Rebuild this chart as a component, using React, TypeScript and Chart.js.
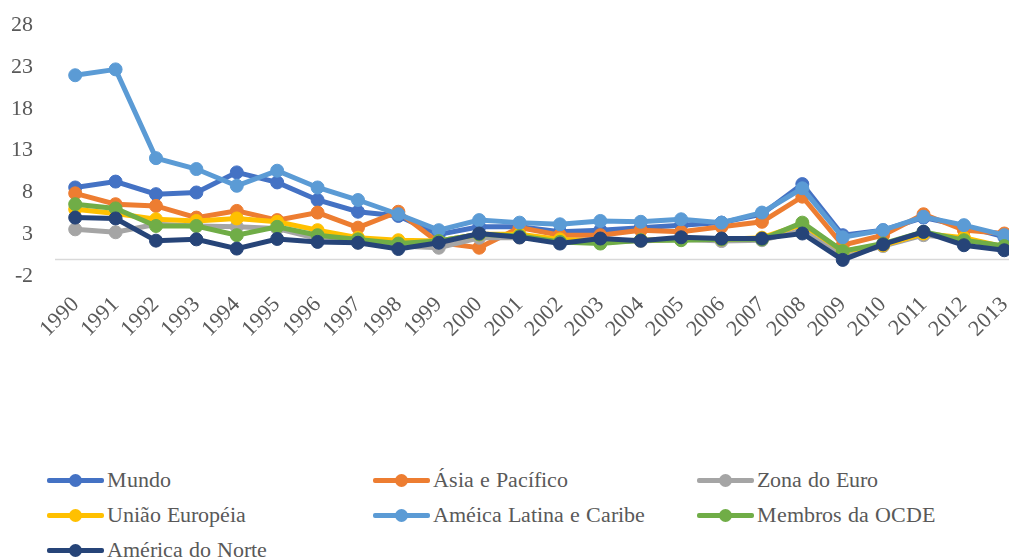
import React, { useEffect, useRef, useState } from "react";
import { Chart, registerables } from "chart.js";

Chart.register(...registerables);

const years = ["1990","1991","1992","1993","1994","1995","1996","1997","1998","1999","2000","2001","2002","2003","2004","2005","2006","2007","2008","2009","2010","2011","2012","2013"];

const mundo = [8.6, 9.3, 7.8, 8.0, 10.4, 9.2, 7.1, 5.7, 5.2, 3.0, 3.9, 3.9, 3.3, 3.5, 3.8, 4.1, 4.4, 5.4, 9.0, 2.9, 3.5, 5.0, 4.0, 2.7];
const asia = [7.9, 6.6, 6.4, 5.0, 5.8, 4.7, 5.6, 3.8, 5.7, 2.0, 1.4, 3.8, 2.9, 2.9, 3.5, 3.3, 3.9, 4.5, 7.5, 1.7, 2.9, 5.4, 3.5, 3.1];
const zona = [3.6, 3.25, 4.2, 4.0, 3.9, 3.7, 2.5, 2.0, 1.6, 1.4, 2.6, 2.6, 2.3, 2.1, 2.2, 2.4, 2.2, 2.3, 3.5, 0.4, 1.6, 2.9, 2.5, 1.4];
const ue = [6.0, 5.5, 4.8, 4.6, 4.9, 4.5, 3.5, 2.6, 2.3, 2.2, 3.0, 3.0, 2.4, 2.2, 2.3, 2.4, 2.4, 2.6, 4.2, 1.0, 1.7, 3.1, 2.6, 1.5];
const latam = [22.0, 22.7, 12.1, 10.8, 8.8, 10.6, 8.6, 7.1, 5.4, 3.5, 4.7, 4.4, 4.2, 4.6, 4.5, 4.8, 4.4, 5.6, 8.5, 2.65, 3.5, 5.1, 4.1, 2.9];
const ocde = [6.6, 6.1, 4.0, 4.0, 2.9, 3.9, 2.9, 2.4, 1.9, 2.2, 3.0, 2.8, 2.1, 1.9, 2.3, 2.3, 2.4, 2.4, 4.4, 1.0, 1.9, 3.3, 2.3, 1.6];
const norte = [5.0, 4.9, 2.25, 2.4, 1.3, 2.45, 2.1, 2.0, 1.25, 2.0, 3.1, 2.65, 1.9, 2.5, 2.25, 2.65, 2.5, 2.5, 3.1, -0.05, 1.8, 3.3, 1.7, 1.1];

const seriesNames = ["Mundo", "Ásia e Pacífico", "Zona do Euro", "União Européia", "Améica Latina e Caribe", "Membros da OCDE", "América do Norte"];
const seriesColors = ["#4472C4", "#ED7D31", "#A5A5A5", "#FFC000", "#5B9BD5", "#70AD47", "#264478"];
const seriesValues = [mundo, asia, zona, ue, latam, ocde, norte];

const yMin = -2;
const yMax = 28;
const yStep = 5;

const FONT_FACE_CSS =
  '@font-face { font-family: "ChartSerif"; src: local("Liberation Serif"), local("LiberationSerif"), local("LiberationSerif-Regular"), local("Tinos"), local("Times New Roman"); }';
const FAMILY = 'ChartSerif, "Liberation Serif", "Times New Roman", serif';

const zeroLine = {
  id: "zeroLine",
  beforeDatasetsDraw(chart: any) {
    const { ctx, chartArea, scales } = chart;
    const y = scales.y.getPixelForValue(0);
    ctx.save();
    ctx.strokeStyle = "#D9D9D9";
    ctx.lineWidth = 1.5;
    ctx.beginPath();
    ctx.moveTo(chartArea.left, y);
    ctx.lineTo(chartArea.right, y);
    ctx.stroke();
    ctx.restore();
  },
};

export default function App() {
  const ref = useRef<HTMLCanvasElement | null>(null);
  const [tick, setTick] = useState(0);

  useEffect(() => {
    if (!ref.current) return;
    let cancelled = false;
    const chart = new Chart(ref.current, {
      type: "line",
      data: {
        labels: years,
        datasets: seriesValues.map((vals, i) => ({
          label: seriesNames[i],
          data: vals,
          borderColor: seriesColors[i],
          backgroundColor: seriesColors[i],
          pointBackgroundColor: seriesColors[i],
          pointBorderColor: seriesColors[i],
          borderWidth: 5,
          pointRadius: 6.5,
          pointBorderWidth: 1,
          tension: 0,
          fill: false,
          order: seriesValues.length - i,
        })),
      },
      options: {
        animation: false,
        responsive: false,
        maintainAspectRatio: false,
        layout: { padding: { left: 11, top: 25, right: 0, bottom: 0 } },
        plugins: {
          legend: { display: false },
          tooltip: { enabled: false },
        },
        scales: {
          x: {
            offset: true,
            grid: { display: false, drawTicks: false },
            border: { display: false },
            afterFit: (scale: any) => {
              scale.paddingLeft = 0;
              scale.paddingRight = 0;
            },
            ticks: {
              color: "#595959",
              font: { family: FAMILY, size: 22 },
              maxRotation: 45,
              minRotation: 45,
              padding: 16,
              autoSkip: false,
            },
          },
          y: {
            min: yMin,
            max: yMax,
            grid: { display: false, drawTicks: false },
            border: { display: false },
            afterFit: (scale: any) => {
              scale.width = 44;
              scale.paddingTop = 0;
              scale.paddingBottom = 0;
            },
            ticks: {
              stepSize: yStep,
              color: "#595959",
              font: { family: FAMILY, size: 22 },
              padding: 22,
            },
          },
        },
      },
      plugins: [zeroLine],
    });
    const fonts: any = (document as any).fonts;
    const redraw = () => {
      if (cancelled) return;
      chart.update();
      setTick((t) => t + 1);
    };
    if (fonts && fonts.load) {
      fonts.load('22px ChartSerif', "Mundo 2000 Ásia").then(redraw).catch(() => {});
      if (fonts.ready) fonts.ready.then(redraw).catch(() => {});
    }
    const t1 = window.setTimeout(redraw, 200);
    return () => {
      cancelled = true;
      window.clearTimeout(t1);
      chart.destroy();
    };
  }, []);

  const colLeft = [47, 373, 697];
  const rowCenter = [480, 515, 550];

  return (
    <div style={{ position: "fixed", left: 0, top: 0, width: 1009, height: 560, overflow: "hidden", background: "#fff", fontFamily: FAMILY }}>
      <style>{FONT_FACE_CSS}</style>
      <canvas ref={ref} width={1032} height={358} style={{ position: "absolute", left: 0, top: 0, width: 1032, height: 358 }} />
      {seriesNames.map((name, i) => {
        const col = i % 3;
        const row = Math.floor(i / 3);
        return (
          <div key={name + "-" + tick} style={{ position: "absolute", left: colLeft[col], top: rowCenter[row] - 15, height: 30, display: "flex", alignItems: "center", whiteSpace: "nowrap" }}>
            <div style={{ position: "relative", width: 57, height: 30, marginRight: 3 }}>
              <div style={{ position: "absolute", left: 0, top: 13, width: 57, height: 5, background: seriesColors[i], borderRadius: 2 }} />
              <div style={{ position: "absolute", left: 22, top: 9, width: 13, height: 13, borderRadius: "50%", background: seriesColors[i] }} />
            </div>
            <span style={{ fontFamily: FAMILY, fontSize: 22, color: "#595959", lineHeight: "30px" }}>{name}</span>
          </div>
        );
      })}
    </div>
  );
}
